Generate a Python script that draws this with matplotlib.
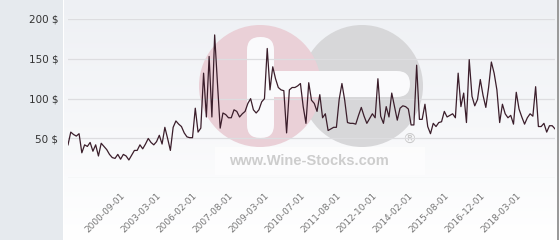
import numpy as np
import matplotlib
matplotlib.use("Agg")
import matplotlib.pyplot as plt
from matplotlib.patches import Circle, FancyBboxPatch, Rectangle

# --- DADOS ---
precos = [
    42, 58, 55, 53, 56, 32, 42, 40, 45, 34, 42, 28, 44, 40, 36, 30, 26, 25, 30,
    24, 30, 28, 23, 29, 35, 35, 42, 37, 43, 50, 45, 42, 46, 54, 43, 64,
    50, 35, 64, 72, 68,
    65, 57, 52, 51, 51, 88, 58, 63, 132, 77, 153, 77, 180, 120, 63, 82, 80, 76, 76, 86,
    84, 77, 81, 84, 94, 100, 86, 82, 86, 96, 100, 163, 111, 140, 125, 114, 111, 110, 57, 111,
    114, 114, 116, 119, 90, 69, 120, 98, 94, 84, 105, 76, 81, 60, 62, 64, 64, 99, 119, 98,
    70, 69, 69, 68,
    79, 89, 78, 69, 75, 81, 76, 125, 78, 69, 90, 77, 107, 90, 73, 88, 91, 90, 87, 67,
    67, 142, 74, 74, 93, 65, 56, 69, 65, 70, 71, 84, 77, 79, 81, 76, 132, 90, 107, 70,
    149, 103, 91, 99, 124, 104, 89, 114, 146, 132, 111, 70, 93, 81, 76, 79, 68, 108, 87, 77,
    68, 76, 81, 78, 115, 65, 65, 69, 58, 66, 66, 62,
]
rotulos_x = ['2000-09-01', '2003-03-01', '2006-02-01', '2007-08-01', '2009-03-01', '2010-07-01',
             '2011-08-01', '2012-10-01', '2014-02-01', '2015-08-01', '2016-12-01', '2018-03-01']
pos_rotulos = [19, 32, 45, 58, 71, 84, 97, 110, 123, 136, 149, 162]
valores_y = [50, 100, 150, 200]

W, H = 560, 240
fig = plt.figure(figsize=(W / 100, H / 100), dpi=100)
fig.patch.set_facecolor('white')

# fundo com degrade
bg = fig.add_axes([63 / W, 0, (W - 63) / W, 1], zorder=0)
grad = np.linspace(0, 1, 256).reshape(-1, 1)
bg.imshow(grad, aspect='auto', cmap=matplotlib.colors.LinearSegmentedColormap.from_list(
    'g', ['#eef0f4', '#ffffff']), extent=[0, 1, 0, 1], origin='upper')
bg.axis('off')

# marca d'agua + painel lateral
wm = fig.add_axes([0, 0, 1, 1], zorder=1)
wm.set_xlim(0, W)
wm.set_ylim(H, 0)
wm.axis('off')
wm.add_patch(Rectangle((0, 0), 63, H, color='#e6eaee', lw=0))
wm.add_patch(Rectangle((63, 0), 1.2, H, color='#ffffff', lw=0))
wm.add_patch(Rectangle((557, 0), 1.5, H, color='#9a9a9a', lw=0))
wm.add_patch(Rectangle((215, 147), 210, 28, color='#ffffff', alpha=0.6, lw=0))
wm.add_patch(Circle((362, 86), 61, color='#d7d7d9', lw=0))
wm.add_patch(Circle((260, 86), 61, color='#ead0d7', lw=0))
wm.add_patch(FancyBboxPatch((262, 71), 148, 26, boxstyle='round,pad=0,rounding_size=13',
                            color='#fafafc', lw=0))
wm.add_patch(FancyBboxPatch((247, 37), 27, 101, boxstyle='round,pad=0,rounding_size=13',
                            color='#fafafc', lw=0))
wm.text(309, 161, 'www.Wine-Stocks.com', ha='center', va='center', fontsize=10.5,
        fontweight='bold', color='#cdcdcd', family='Liberation Sans')
wm.text(409, 140, '®', ha='center', va='center', fontsize=10, color='#c8c8c8')

# grafico principal
ax = fig.add_axes([68 / W, 1 - 178.3 / H, (555 - 68) / W, (178.3 - 19) / H], zorder=2)
ax.patch.set_alpha(0)
x = np.arange(len(precos))
ax.plot(x, precos, color='#3b1e2b', linewidth=0.9)
ax.set_xlim(0, len(precos) - 1)
ax.set_ylim(0, 200)
ax.set_yticks([0] + valores_y)
ax.set_yticklabels([''] + [f'{v} $' for v in valores_y], fontsize=7.5, color='#333333')
ax.grid(True, axis='y', color='#dddde0', linewidth=0.9)
ax.set_axisbelow(True)
ax.set_xticks(pos_rotulos)
ax.set_xticklabels(rotulos_x, rotation=45, ha='right', rotation_mode='anchor',
                   fontsize=6.5, color='#777777')
ax.tick_params(axis='both', length=0)
ax.tick_params(axis='y', pad=7)
ax.tick_params(axis='x', pad=9)
for s in ax.spines.values():
    s.set_visible(False)

plt.savefig('out.png', dpi=100)
